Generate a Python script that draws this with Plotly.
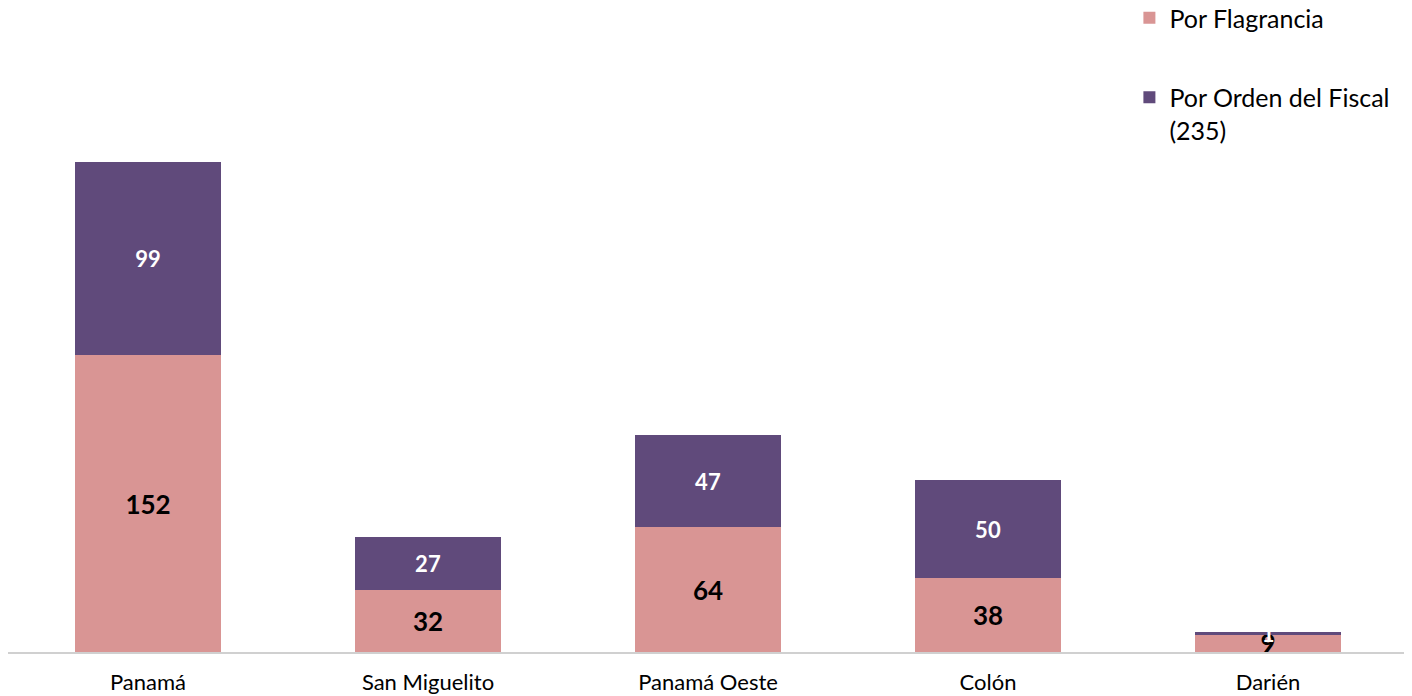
import plotly.graph_objects as go

categories = ["Panamá", "San Miguelito", "Panamá Oeste", "Colón", "Darién"]
flagrancia = [152, 32, 64, 38, 9]
orden_fiscal = [99, 27, 47, 50, 1]
series_names = ["Por Flagrancia", "Por Orden del Fiscal<br>(235)"]

FONT = "Lato, 'Open Sans', sans-serif"
PINK = "#D99594"
PURPLE = "#604A7B"

fig = go.Figure()
fig.add_trace(go.Bar(
    x=categories, y=flagrancia, name=series_names[0],
    marker=dict(color=PINK, line=dict(width=0)),
    text=flagrancia, textposition="inside", insidetextanchor="middle",
    constraintext="none", textangle=0,
    textfont=dict(family=FONT, size=26, color="#000000", weight="bold"),
    legendgroup="a",
))
fig.add_trace(go.Bar(
    x=categories, y=orden_fiscal, name=series_names[1],
    marker=dict(color=PURPLE, line=dict(width=0)),
    text=orden_fiscal, textposition="inside", insidetextanchor="middle",
    constraintext="none", textangle=0,
    textfont=dict(family=FONT, size=22, color="#FFFFFF", weight="bold"),
    legendgroup="b",
))

fig.update_layout(
    barmode="stack",
    bargap=0.482,
    width=1404, height=688,
    margin=dict(l=0, r=4, t=0, b=44, autoexpand=False),
    plot_bgcolor="white", paper_bgcolor="white",
    font=dict(family=FONT, size=22, color="#000000"),
    showlegend=True,
    legend=dict(
        x=0.801, xanchor="left", y=1.02, yanchor="top",
        traceorder="grouped", valign="top",
        font=dict(family=FONT, size=25, color="#000000"),
        tracegroupgap=44, itemwidth=30,
        bgcolor="rgba(0,0,0,0)",
    ),
    xaxis=dict(
        showgrid=False, showline=True, linecolor="#D0D0D0", linewidth=1.5,
        ticks="", ticklabelstandoff=10,
        tickfont=dict(family=FONT, size=22, color="#000000"),
        fixedrange=True,
    ),
    yaxis=dict(
        range=[0, 330], showgrid=False, showticklabels=False,
        zeroline=False, showline=False, fixedrange=True,
    ),
    uniformtext=dict(mode=False),
)

fig.write_html("out.html")
